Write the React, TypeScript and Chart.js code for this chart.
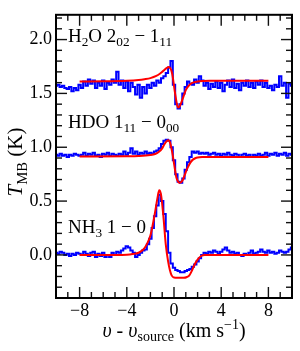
import React, { useEffect, useRef } from "react";
import { Chart, registerables } from "chart.js";

Chart.register(...registerables);

// ---------- data ----------
const velocity = [
  -10, -9.8, -9.6, -9.4, -9.2, -9, -8.8, -8.6, -8.4, -8.2,
  -8, -7.8, -7.6, -7.4, -7.2, -7, -6.8, -6.6, -6.4, -6.2,
  -6, -5.8, -5.6, -5.4, -5.2, -5, -4.8, -4.6, -4.4, -4.2,
  -4, -3.8, -3.6, -3.4, -3.2, -3, -2.8, -2.6, -2.4, -2.2,
  -2, -1.8, -1.6, -1.4, -1.2, -1, -0.8, -0.6, -0.4, -0.2,
  0, 0.2, 0.4, 0.6, 0.8, 1, 1.2, 1.4, 1.6, 1.8,
  2, 2.2, 2.4, 2.6, 2.8, 3, 3.2, 3.4, 3.6, 3.8,
  4, 4.2, 4.4, 4.6, 4.8, 5, 5.2, 5.4, 5.6, 5.8,
  6, 6.2, 6.4, 6.6, 6.8, 7, 7.2, 7.4, 7.6, 7.8,
  8, 8.2, 8.4, 8.6, 8.8, 9, 9.2, 9.4, 9.6, 9.8, 10,
];

const h2oSpectrum = [
  1.57, 1.58, 1.56, 1.57, 1.55, 1.54, 1.56, 1.52, 1.55, 1.53,
  1.58, 1.55, 1.61, 1.57, 1.63, 1.59, 1.62, 1.55, 1.6, 1.57,
  1.62, 1.54, 1.6, 1.58, 1.63, 1.6, 1.7, 1.58, 1.62, 1.55,
  1.61, 1.52, 1.6, 1.56, 1.49, 1.58, 1.46, 1.56, 1.5, 1.58,
  1.55, 1.6, 1.57, 1.62, 1.6, 1.64, 1.66, 1.69, 1.74, 1.8,
  1.58, 1.4, 1.36, 1.4, 1.5, 1.56, 1.61, 1.59, 1.58, 1.63,
  1.6, 1.66, 1.62, 1.57, 1.6, 1.54, 1.59, 1.56, 1.61, 1.55,
  1.6, 1.52, 1.58, 1.62, 1.56, 1.63, 1.55, 1.59, 1.53, 1.6,
  1.57, 1.62, 1.56, 1.6, 1.55, 1.61, 1.58, 1.62, 1.56, 1.6,
  1.55, 1.57, 1.53, 1.58, 1.56, 1.66, 1.57, 1.6, 1.46, 1.59, 1.57,
];

const hdoSpectrum = [
  0.93, 0.92, 0.94, 0.92, 0.93, 0.91, 0.93, 0.92, 0.94, 0.93,
  0.92, 0.93, 0.95, 0.92, 0.94, 0.93, 0.95, 0.92, 0.93, 0.91,
  0.94, 0.93, 0.95, 0.92, 0.94, 0.93, 0.92, 0.94, 0.93, 0.96,
  0.93, 0.95, 0.99, 0.94, 0.96, 0.93, 0.95, 0.94, 0.96, 0.94,
  0.95, 0.94, 0.96, 0.97, 0.99, 1.03, 1.06, 1.07, 1.06, 1.0,
  0.88, 0.75, 0.68, 0.67, 0.71, 0.79, 0.86, 0.91, 0.96, 0.95,
  0.96, 0.94, 0.95, 0.94, 0.95, 0.93, 0.94, 0.95, 0.93, 0.94,
  0.92, 0.94, 0.93, 0.95, 0.93, 0.92, 0.94, 0.93, 0.91, 0.93,
  0.94, 0.92, 0.93, 0.91, 0.93, 0.92, 0.94, 0.92, 0.93, 0.95,
  0.92, 0.94, 0.93, 0.95, 0.92, 0.94, 0.93, 0.95, 0.92, 0.94, 0.93,
];

const nh3Spectrum = [
  0.02, 0.01, 0.03, 0.02, 0.0, 0.01, -0.01, 0.01, 0.0, 0.02,
  0.01, 0.0, 0.03, 0.01, -0.01, 0.02, 0.03, -0.02, 0.01, -0.01,
  0.02, -0.02, 0.0, -0.02, 0.02, 0.0, 0.03, 0.02, 0.04, 0.06,
  0.08, 0.07, 0.04, 0.02, -0.02, 0.0, 0.02, 0.04, 0.05, 0.1,
  0.15, 0.25, 0.36, 0.46, 0.56, 0.5, 0.38, 0.22, 0.02, -0.08,
  -0.12, -0.14, -0.15, -0.16, -0.16, -0.15, -0.14, -0.13, -0.11, -0.09,
  -0.06, -0.03, 0.0, 0.02, 0.01, 0.03, 0.02, 0.04, 0.03, 0.01,
  0.03, 0.05, 0.07, 0.04, 0.02, 0.03, 0.01, 0.02, 0.0, -0.01,
  0.01, 0.0, 0.02, 0.04, 0.01, 0.02, 0.03, 0.05, 0.03, 0.02,
  0.04, 0.02, 0.03, 0.01, 0.02, 0.04, 0.03, 0.02, 0.03, 0.05, 0.07,
];

const h2oFitVelocity = [-8, -6, -4, -3, -2.5, -2, -1.5, -1.2, -1, -0.8, -0.6, -0.45, -0.35, -0.25, -0.15, -0.05, 0.05, 0.15, 0.25, 0.35, 0.45, 0.6, 0.8, 1, 1.2, 1.5, 2, 2.5, 3, 8];
const h2oFit = [1.61, 1.612, 1.618, 1.625, 1.632, 1.642, 1.662, 1.682, 1.7, 1.72, 1.738, 1.745, 1.74, 1.72, 1.68, 1.61, 1.53, 1.46, 1.4, 1.37, 1.375, 1.41, 1.47, 1.53, 1.565, 1.595, 1.61, 1.615, 1.617, 1.618];

const hdoFitVelocity = [-8, -4, -3, -2, -1.6, -1.3, -1, -0.8, -0.6, -0.5, -0.4, -0.3, -0.2, -0.1, 0, 0.1, 0.2, 0.35, 0.5, 0.65, 0.8, 1, 1.2, 1.4, 1.6, 1.8, 2, 2.5, 3, 8];
const hdoFit = [0.915, 0.916, 0.918, 0.927, 0.937, 0.956, 0.99, 1.03, 1.058, 1.064, 1.058, 1.03, 0.98, 0.92, 0.85, 0.78, 0.72, 0.68, 0.67, 0.68, 0.71, 0.77, 0.82, 0.86, 0.885, 0.898, 0.905, 0.909, 0.91, 0.91];

const nh3FitVelocity = [-8, -5, -4, -3.5, -3, -2.6, -2.3, -2, -1.8, -1.6, -1.4, -1.25, -1.1, -0.9, -0.7, -0.5, -0.35, -0.2, 0, 0.3, 0.8, 1.1, 1.3, 1.5, 1.7, 1.9, 2.1, 2.3, 2.6, 8];
const nh3Fit = [0.0, 0.0, 0.002, 0.008, 0.02, 0.05, 0.1, 0.18, 0.28, 0.4, 0.53, 0.6, 0.56, 0.36, 0.1, -0.06, -0.14, -0.19, -0.21, -0.212, -0.212, -0.205, -0.19, -0.15, -0.1, -0.06, -0.03, -0.01, 0.0, 0.0];

const xMajorTicks = [-8, -4, 0, 4, 8];
const xMinorTicks = [-9, -8, -7, -6, -5, -4, -3, -2, -1, 0, 1, 2, 3, 4, 5, 6, 7, 8, 9];
const yMajorTicks = [0, 0.5, 1, 1.5, 2];
const yMinorTicks = [-0.3, -0.2, -0.1, 0, 0.1, 0.2, 0.3, 0.4, 0.5, 0.6, 0.7, 0.8, 0.9, 1, 1.1, 1.2, 1.3, 1.4, 1.5, 1.6, 1.7, 1.8, 1.9, 2, 2.1, 2.2];

const X_MIN = -10;
const X_MAX = 10;
const Y_MIN = -0.4;
const Y_MAX = 2.23;

const FONT = '"Liberation Serif", "Times New Roman", serif';

type Seg = { t: string; sub?: boolean; sup?: boolean; italic?: boolean };

const h2oLabel: Seg[] = [{ t: "H" }, { t: "2", sub: true }, { t: "O 2" }, { t: "02", sub: true }, { t: " \u2212 1" }, { t: "11", sub: true }];
const hdoLabel: Seg[] = [{ t: "HDO 1" }, { t: "11", sub: true }, { t: " \u2212 0" }, { t: "00", sub: true }];
const nh3Label: Seg[] = [{ t: "NH" }, { t: "3", sub: true }, { t: " 1 \u2212 0" }];
const yTitle: Seg[] = [{ t: "T", italic: true }, { t: "MB", sub: true }, { t: " (K)" }];
const xTitle: Seg[] = [
  { t: "\u03c5", italic: true },
  { t: " - " },
  { t: "\u03c5", italic: true },
  { t: "source", sub: true },
  { t: " (km s" },
  { t: "\u22121", sup: true },
  { t: ")" },
];

function segFont(s: Seg, size: number) {
  const sz = s.sub || s.sup ? size * 0.7 : size;
  return `${s.italic ? "italic " : ""}${sz}px ${FONT}`;
}

function drawRich(ctx: CanvasRenderingContext2D, segs: Seg[], x: number, y: number, size: number, align: "left" | "center") {
  let total = 0;
  for (const s of segs) {
    ctx.font = segFont(s, size);
    total += ctx.measureText(s.t).width;
  }
  let cx = align === "center" ? x - total / 2 : x;
  ctx.textBaseline = "alphabetic";
  ctx.textAlign = "left";
  for (const s of segs) {
    ctx.font = segFont(s, size);
    const dy = s.sub ? size * 0.22 : s.sup ? -size * 0.38 : 0;
    ctx.fillText(s.t, cx, y + dy);
    cx += ctx.measureText(s.t).width;
  }
}

const decorPlugin = {
  id: "decor",
  afterDraw(chart: any) {
    const { ctx, chartArea } = chart;
    const { left, right, top, bottom } = chartArea;
    const xs = chart.scales.x;
    const ys = chart.scales.y;
    ctx.save();
    ctx.strokeStyle = "#111";
    ctx.lineWidth = 1.4;
    const line = (x1: number, y1: number, x2: number, y2: number) => {
      ctx.beginPath();
      ctx.moveTo(x1, y1);
      ctx.lineTo(x2, y2);
      ctx.stroke();
    };
    for (const v of xMinorTicks) {
      const px = xs.getPixelForValue(v);
      const L = xMajorTicks.includes(v) ? 11 : 6;
      line(px, bottom, px, bottom - L);
      line(px, top, px, top + L);
    }
    for (const v of yMinorTicks) {
      const py = ys.getPixelForValue(v);
      const L = yMajorTicks.some((m) => Math.abs(m - v) < 1e-6) ? 11 : 6;
      line(left, py, left + L, py);
      line(right, py, right - L, py);
    }
    ctx.lineWidth = 2;
    ctx.strokeStyle = "#000";
    ctx.strokeRect(left, top, right - left, bottom - top);

    ctx.fillStyle = "#000";
    drawRich(ctx, h2oLabel, 68, 42, 19, "left");
    drawRich(ctx, hdoLabel, 68, 128, 19, "left");
    drawRich(ctx, nh3Label, 68, 233, 19, "left");

    drawRich(ctx, xTitle, (left + right) / 2, 337, 20, "center");

    ctx.translate(22, 162);
    ctx.rotate(-Math.PI / 2);
    drawRich(ctx, yTitle, 0, 0, 21, "center");
    ctx.restore();
  },
};

function pts(xv: number[], yv: number[]) {
  return xv.map((x, i) => ({ x, y: yv[i] }));
}

export default function App() {
  const ref = useRef<HTMLCanvasElement | null>(null);
  useEffect(() => {
    if (!ref.current) return;
    const blue = "#0000ff";
    const red = "#ff0000";
    const spec = (d: number[]) => ({
      data: pts(velocity, d),
      borderColor: blue,
      borderWidth: 2,
      pointRadius: 0,
      stepped: "middle" as const,
      fill: false,
      order: 2,
    });
    const fit = (xv: number[], d: number[]) => ({
      data: pts(xv, d),
      borderColor: red,
      borderWidth: 2,
      pointRadius: 0,
      cubicInterpolationMode: "monotone" as const,
      fill: false,
      order: 1,
    });
    const chart = new Chart(ref.current, {
      type: "line",
      data: {
        datasets: [
          fit(h2oFitVelocity, h2oFit),
          fit(hdoFitVelocity, hdoFit),
          fit(nh3FitVelocity, nh3Fit),
          spec(h2oSpectrum),
          spec(hdoSpectrum),
          spec(nh3Spectrum),
        ] as any,
      },
      options: {
        animation: false,
        responsive: false,
        maintainAspectRatio: false,
        layout: { padding: { left: 0, right: 8, top: 7, bottom: 26 } },
        plugins: { legend: { display: false }, tooltip: { enabled: false } },
        scales: {
          x: {
            type: "linear",
            min: X_MIN,
            max: X_MAX,
            grid: { display: false, drawTicks: false },
            border: { display: false },
            ticks: {
              color: "#000",
              font: { family: FONT, size: 18 },
              padding: 2,
              maxRotation: 0,
              autoSkip: false,
              callback: (v: any) => (Number(v) < 0 ? "\u2212" + Math.abs(Number(v)) : String(v)),
            },
            afterBuildTicks: (s: any) => {
              s.ticks = xMajorTicks.map((v) => ({ value: v }));
            },
            afterFit: (s: any) => {
              s.height = 27;
            },
          },
          y: {
            type: "linear",
            min: Y_MIN,
            max: Y_MAX,
            grid: { display: false, drawTicks: false },
            border: { display: false },
            ticks: {
              color: "#000",
              font: { family: FONT, size: 18 },
              padding: 4,
              autoSkip: false,
              callback: (v: any) => Number(v).toFixed(1),
            },
            afterBuildTicks: (s: any) => {
              s.ticks = yMajorTicks.map((v) => ({ value: v }));
            },
            afterFit: (s: any) => {
              s.width = 56;
            },
          },
        },
      },
      plugins: [decorPlugin],
    });
    return () => chart.destroy();
  }, []);
  return (
    <div style={{ position: "fixed", left: 0, top: 0, width: 300, height: 351, background: "#fff" }}>
      <canvas ref={ref} width={300} height={351} style={{ width: 300, height: 351, display: "block" }} />
    </div>
  );
}
